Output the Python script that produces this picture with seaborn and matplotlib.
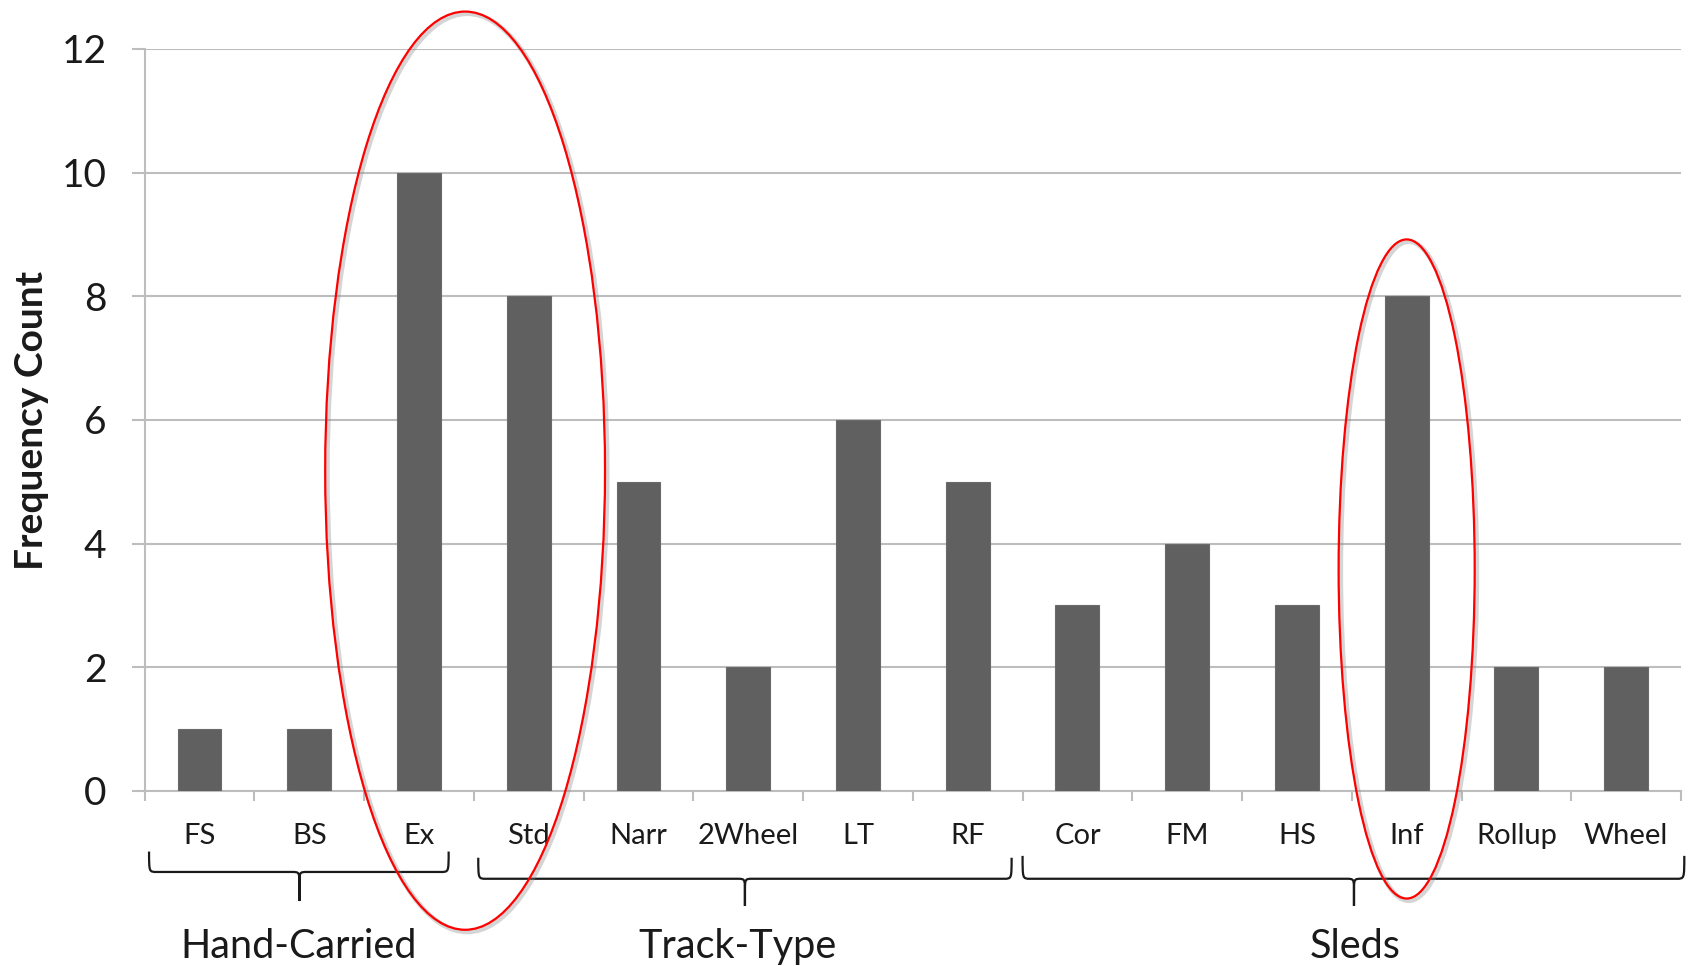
import matplotlib
matplotlib.use("Agg")
import matplotlib.pyplot as plt
import matplotlib.patheffects as pe
from matplotlib.patches import Ellipse, PathPatch
from matplotlib.path import Path
import seaborn as sns

# Sled / transport types and how often each was observed
categories = ["FS", "BS", "Ex", "Std", "Narr", "2Wheel", "LT", "RF",
              "Cor", "FM", "HS", "Inf", "Rollup", "Wheel"]
counts = [1, 1, 10, 8, 5, 2, 6, 5, 3, 4, 3, 8, 2, 2]

# Category groups shown under the axis
group_names = ["Hand-Carried", "Track-Type", "Sleds"]

y_ticks = [0, 2, 4, 6, 8, 10, 12]

sns.set_theme(style="white")
plt.rcParams["font.family"] = ["Lato", "DejaVu Sans"]

fig = plt.figure(figsize=(16.92, 9.66), dpi=100)
ax = fig.add_axes([0.0855, 0.1812, 0.9080, 0.7681])

sns.barplot(x=categories, y=counts, color="#606060", width=0.4,
            saturation=1, edgecolor="#6a6a6a", linewidth=0.8, ax=ax, zorder=3)

grid_c = "#bdbdbd"
ax.set_ylim(0, 12)
ax.set_xlim(-0.5, len(categories) - 0.5)
ax.set_yticks(y_ticks)
ax.set_yticklabels([str(v) for v in y_ticks], fontsize=28, color="#1a1a1a")
ax.yaxis.grid(True, color=grid_c, linewidth=1.5, zorder=0)
ax.tick_params(axis="y", length=9.5, width=1.5, color=grid_c, pad=18, left=True)

ax.set_xticks(range(len(categories)))
ax.set_xticklabels(categories, fontsize=21, color="#1a1a1a")
ax.tick_params(axis="x", which="major", length=0, pad=23)
ax.set_xticks([i - 0.5 for i in range(len(categories) + 1)], minor=True)
ax.tick_params(axis="x", which="minor", length=7, width=1.5, color=grid_c,
               bottom=True)

for side in ["top", "right"]:
    ax.spines[side].set_visible(False)
for side in ["left", "bottom"]:
    ax.spines[side].set_color(grid_c)
    ax.spines[side].set_linewidth(1.5)

ax.set_xlabel("")
ax.set_ylabel("Frequency Count", fontsize=28, fontweight="bold",
              color="#1a1a1a")
ax.yaxis.set_label_coords(-0.0625, 0.4987)


def brace(ax, x0, x1, xc, y_top, y_mid, y_tip, rx=0.07, dy=0.22):
    verts, codes = [], []
    for xe, s in ((x0, 1), (x1, -1)):
        verts += [(xe, y_top), (xe, y_mid), (xe, y_mid), (xe + s * rx, y_mid),
                  (xc - s * rx, y_mid), (xc, y_mid), (xc, y_mid),
                  (xc, y_mid - dy), (xc, y_tip)]
        codes += [Path.MOVETO, Path.CURVE4, Path.CURVE4, Path.CURVE4,
                  Path.LINETO, Path.CURVE4, Path.CURVE4, Path.CURVE4,
                  Path.LINETO]
    patch = PathPatch(Path(verts, codes), facecolor="none", edgecolor="#1a1a1a",
                      linewidth=1.6, clip_on=False, zorder=4)
    ax.add_patch(patch)


brace_geom = [(-0.46, 2.27, 0.91, -0.98, -1.31, -1.78),
              (2.54, 7.40, 4.97, -1.08, -1.42, -1.86),
              (7.50, 13.53, 10.52, -1.05, -1.42, -1.86)]
label_x = [0.90, 4.90, 10.53]
for name, (x0, x1, xc, yt, ym, yb), lx in zip(group_names, brace_geom, label_x):
    brace(ax, x0, x1, xc, yt, ym, yb)
    ax.text(lx, -2.70, name, ha="center", va="baseline", fontsize=28.5,
            color="#1a1a1a", clip_on=False)

# Highlight rings around the notable categories
shadow = [pe.SimpleLineShadow(offset=(1.5, -1.5), shadow_color="#888888",
                              alpha=0.35, linewidth=3.5), pe.Normal()]
for cx, cy, w, h in [(2.42, 5.18, 2.55, 14.85), (11.0, 3.59, 1.24, 10.66)]:
    ell = Ellipse((cx, cy), w, h, facecolor="none", edgecolor="#ff0000",
                  linewidth=1.6, clip_on=False, zorder=6)
    ell.set_path_effects(shadow)
    ax.add_patch(ell)

fig.savefig("out.png", dpi=100, facecolor="white")
